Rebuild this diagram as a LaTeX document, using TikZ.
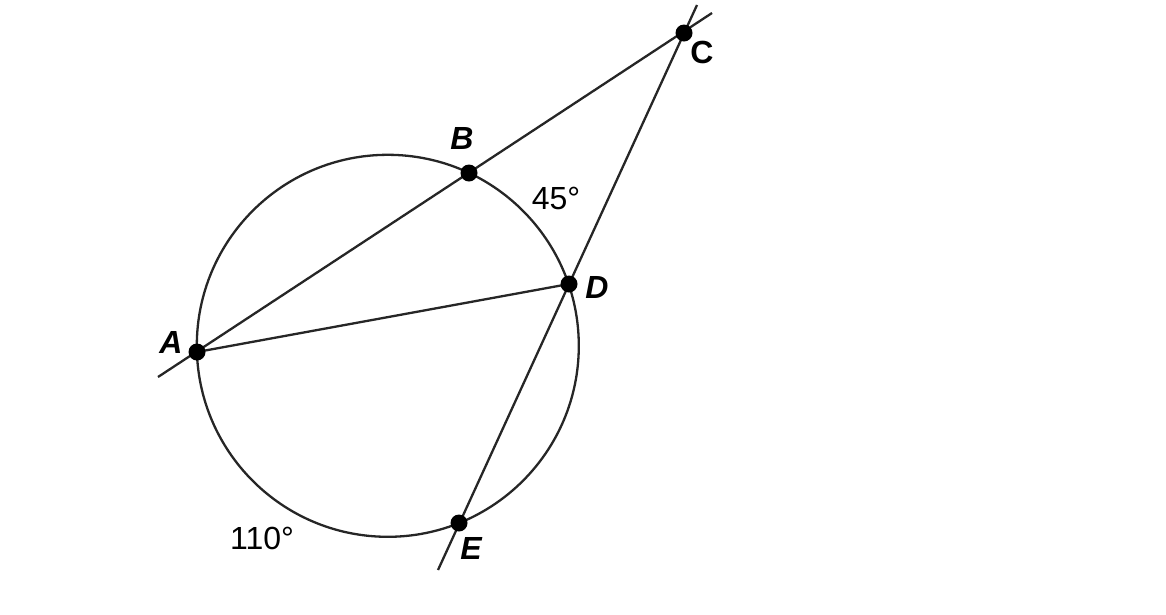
\documentclass[tikz,border=0pt]{standalone}
\usepackage{fontspec}
\setmainfont{Liberation Sans}
\begin{document}
\begin{tikzpicture}[x=1pt,y=-1pt,
  geo/.style={line width=2.3pt,black!85},
  dot/.style={circle,fill=black,inner sep=0pt,minimum size=17pt},
  lbl/.style={font=\fontsize{32}{32}\selectfont\bfseries\itshape,inner sep=0pt},
  lblup/.style={font=\fontsize{32}{32}\selectfont\bfseries,inner sep=0pt},
  ang/.style={font=\fontsize{32}{32}\selectfont,inner sep=0pt}]
\useasboundingbox (0,0) rectangle (1166,614);
\coordinate (O) at (387.8,345.8);
\coordinate (A) at (197,352);
\coordinate (B) at (469,173);
\coordinate (C) at (684,33);
\coordinate (D) at (569,284);
\coordinate (E) at (459,523);
\coordinate (A0) at (158,377);
\coordinate (C1) at (712,13);
\coordinate (C2) at (697,5);
\coordinate (E0) at (438,570);
\draw[geo] (O) circle[radius=191];
\draw[geo] (A0) -- (C1);
\draw[geo] (E0) -- (C2);
\draw[geo] (A) -- (D);
\foreach \p in {A,B,C,D,E} \node[dot] (d\p) at (\p) {};
\node[lbl] (lA) at (171,342) {A};
\node[lbl] (lB) at (462,138) {B};
\node[lblup] (lC) at (702,52) {C};
\node[lbl] (lD) at (597,287) {D};
\node[lbl] (lE) at (471,548) {E};
\node[ang] (a45) at (556,198) {45°};
\node[ang] (a110) at (262,538) {110°};
\end{tikzpicture}
\end{document}
